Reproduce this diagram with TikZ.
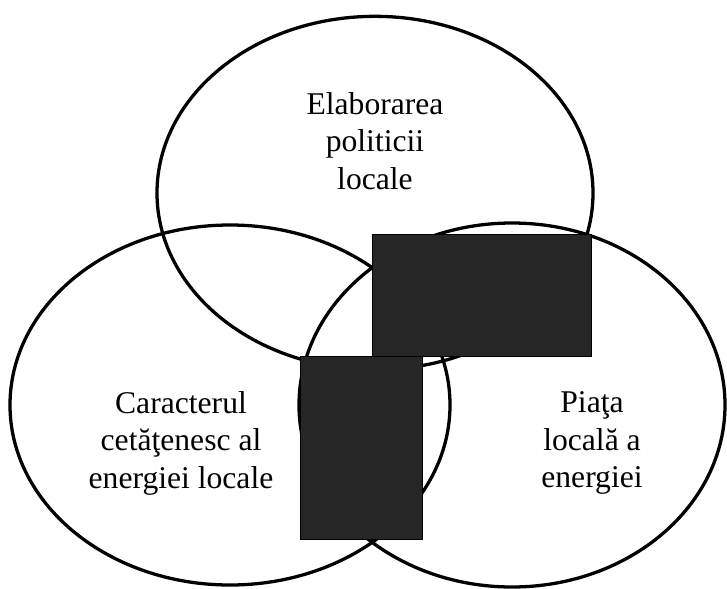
\documentclass[tikz,border=0pt]{standalone}
\usepackage{fontspec}
\setmainfont{Liberation Serif}
\usetikzlibrary{shapes.geometric}

\begin{document}
\begin{tikzpicture}[x=0.03cm,y=-0.03cm]
        \useasboundingbox (0,0) rectangle (727,589);
        \begin{scope}[every node/.style={ellipse,draw=black,line width=2.8pt,inner sep=0pt}]
            \node[minimum width=13.08cm,minimum height=10.6cm] (politica) at (375,193) {};
            \node[minimum width=13.2cm,minimum height=10.8cm] (caracter) at (230,405) {};
            \node[minimum width=12.78cm,minimum height=10.92cm] (piata) at (512,405) {};
        \end{scope}
        \begin{scope}[every node/.style={rectangle,fill=black!85,draw=black,inner sep=0pt}]
            \node[minimum width=6.57cm,minimum height=3.66cm] (sus) at (481.5,295) {};
            \node[minimum width=3.66cm,minimum height=5.49cm] (jos) at (361,447.5) {};
        \end{scope}
        \begin{scope}[every node/.style={align=center,font=\fontsize{27}{32}\selectfont}]
            \node (tpolitica) at (375,141) {Elaborarea\\politicii\\locale};
            \node (tcaracter) at (181,443) {Caracterul\\cetăţenesc al\\energiei locale};
            \node (tpiata) at (592,443) {Piaţa\\locală a\\energiei};
        \end{scope}
    \end{tikzpicture}
\end{document}
